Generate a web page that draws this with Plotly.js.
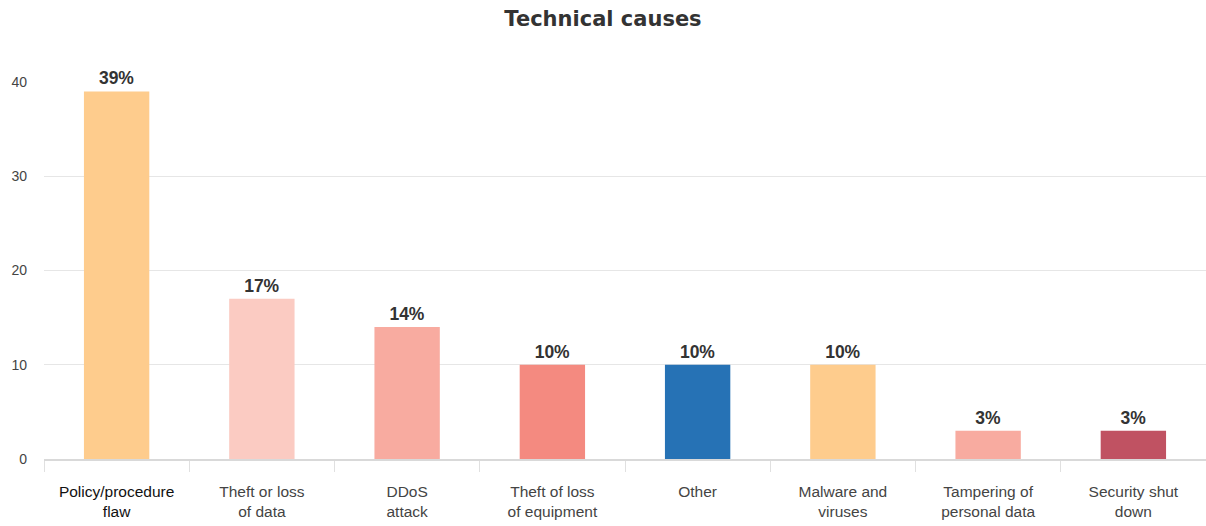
<!DOCTYPE html>
<html>
<head>
<meta charset="utf-8">
<script src="https://cdn.plot.ly/plotly-3.0.1.min.js"></script>
<style>html,body{margin:0;padding:0;background:#fff;}#chart{width:1206px;height:526px;}</style>
</head>
<body>
<div id="chart"></div>
<script>
const categories = ["Policy/procedure flaw", "Theft or loss of data", "DDoS attack", "Theft of loss of equipment", "Other", "Malware and viruses", "Tampering of personal data", "Security shut down"];
const tickLabels = ["Policy/procedure<br>flaw", "Theft or loss<br>of data", "DDoS<br>attack", "Theft of loss<br>of equipment", "Other", "Malware and<br>viruses", "Tampering of<br>personal data", "Security shut<br>down"];
const values = [39, 17, 14, 10, 10, 10, 3, 3];
const barColors = ["#FECC8D", "#FBCBC2", "#F8ABA0", "#F48A80", "#2672B5", "#FECC8D", "#F8ABA0", "#C05262"];

const trace = {
  type: "bar",
  x: categories,
  y: values,
  width: 0.45,
  marker: {color: barColors, line: {width: 0}},
  text: values.map(v => "<b>" + v + "%</b>"),
  textposition: "outside",
  textfont: {family: "Liberation Sans, Arial, sans-serif", size: 17.5, color: "#333"},
  cliponaxis: false,
  hoverinfo: "x+y"
};

const styledTicks = tickLabels.map((t, i) => i === 0 ? '<span style="color:#111">' + t + '</span>' : t);

const layout = {
  width: 1206,
  height: 526,
  margin: {l: 44, r: 0, t: 82, b: 67},
  paper_bgcolor: "#fff",
  plot_bgcolor: "#fff",
  showlegend: false,
  title: {
    text: "<b>Technical causes</b>",
    font: {family: "DejaVu Sans, Verdana, sans-serif", size: 21, color: "#333"},
    x: 0.5, xanchor: "center", y: 0.965, yanchor: "middle"
  },
  font: {family: "Liberation Sans, Arial, sans-serif", color: "#333"},
  xaxis: {
    type: "category",
    tickmode: "array",
    tickvals: categories,
    ticktext: styledTicks,
    tickson: "boundaries",
    ticks: "outside",
    ticklen: 11,
    tickcolor: "#e0e0e0",
    showgrid: false,
    showline: true,
    linecolor: "#d9d9d9",
    linewidth: 2,
    tickfont: {size: 15.5, color: "#444"},
    tickangle: 0,
    ticklabelstandoff: 17
  },
  yaxis: {
    range: [0, 40],
    tickvals: [0, 10, 20, 30, 40],
    showgrid: true,
    gridcolor: "#e6e6e6",
    gridwidth: 1,
    zeroline: false,
    showline: false,
    tickfont: {size: 14, color: "#444"},
    ticks: "",
    ticklabelstandoff: 16
  }
};

Plotly.newPlot("chart", [trace], layout, {displayModeBar: false, staticPlot: true});
</script>
</body>
</html>
